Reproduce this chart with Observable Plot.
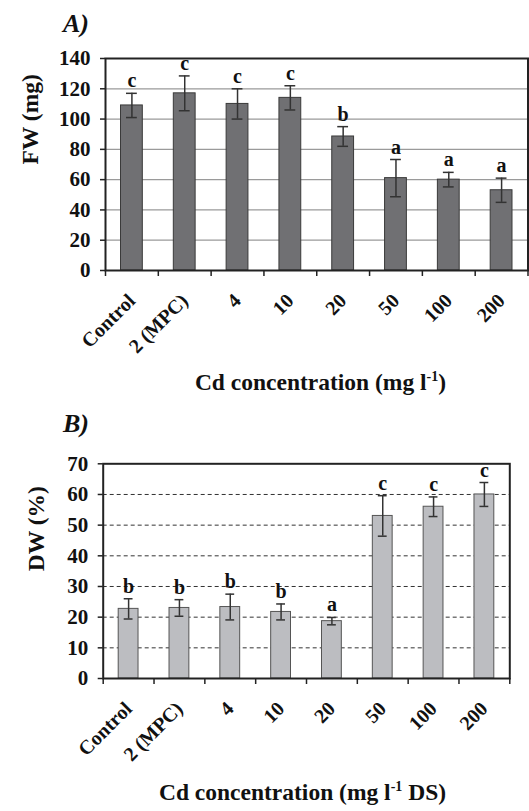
<!DOCTYPE html>
<html>
<head>
<meta charset="utf-8">
<script src="https://cdn.jsdelivr.net/npm/d3@7"></script>
<script src="https://cdn.jsdelivr.net/npm/@observablehq/plot@0.6"></script>
<style>
  html, body { margin: 0; padding: 0; background: #fff; }
  #wrap { position: relative; width: 529px; height: 811px; font-family: 'Liberation Serif'; color: #111; overflow: hidden; }
  .abs { position: absolute; font-family: 'Liberation Serif'; }
  .panel { font-style: italic; font-weight: bold; font-size: 26px; line-height: normal; z-index: 2; }
  .xt { font-weight: bold; font-size: 23.5px; line-height: normal; text-align: center; white-space: nowrap; z-index: 2; }
  .sp { font-size: 14px; position: relative; top: -9px; }
</style>
</head>
<body>
<div id="wrap">
  <div id="chartA" class="abs" style="left:0; top:0;"></div>
  <div id="chartB" class="abs" style="left:0; top:400px;"></div>
  <div class="abs panel" style="left:63px; top:9px;">A)</div>
  <div class="abs xt" style="left:0; width:641px; top:369px;">Cd concentration (mg l<span class="sp">-1</span>)</div>
  <div class="abs panel" style="left:63px; top:409px;">B)</div>
  <div class="abs xt" style="left:0; width:605px; top:779px;">Cd concentration (mg l<span class="sp">-1</span> DS)</div>
</div>
<script>
const categories = ["Control", "2 (MPC)", "4", "10", "20", "50", "100", "200"];
const fwMean = [109, 117, 110, 114, 88.5, 61, 60, 53];
const fwErr = [8, 11.5, 10, 8, 6.5, 12.3, 4.8, 8];
const fwLetters = ["c", "c", "c", "c", "b", "a", "a", "a"];
const dwMean = [22.7, 23, 23.3, 21.7, 18.7, 53, 56, 60];
const dwErr = [3.3, 2.7, 4.2, 2.6, 1.2, 6.6, 3.2, 3.9];
const dwLetters = ["b", "b", "b", "b", "a", "c", "c", "c"];
const fwTicks = [0, 20, 40, 60, 80, 100, 120, 140];
const dwTicks = [0, 10, 20, 30, 40, 50, 60, 70];

const FONT = "Liberation Serif";

function panel({mean, err, letters, ticks, yMax, title, fill, stroke, grid, height, mt, mb, ml, mr, titleDx}) {
  const data = categories.map((c, i) => ({i, c, v: mean[i], e: err[i], l: letters[i]}));
  const inner = ticks.filter(t => t > 0 && t < yMax);
  return Plot.plot({
    width: 529, height,
    marginTop: mt, marginBottom: mb, marginLeft: ml, marginRight: mr,
    x: {domain: [0, categories.length], label: null},
    y: {domain: [0, yMax], label: null},
    style: {fontFamily: FONT, fontWeight: "bold", fontSize: "21px", color: "#111", background: "transparent", overflow: "visible"},
    marks: [
      Plot.ruleY(inner, grid),
      Plot.rectY(data, {x1: "i", x2: d => d.i + 1, y: "v", insetLeft: 15.5, insetRight: 15.5, fill, stroke, strokeWidth: 1}),
      Plot.ruleX(data, {x: d => d.i + 0.5, y1: d => d.v - d.e, y2: d => d.v + d.e, stroke: "#333", strokeWidth: 1.5}),
      Plot.ruleY(data, {x1: "i", x2: d => d.i + 1, y: d => d.v + d.e, insetLeft: 21, insetRight: 21, stroke: "#333", strokeWidth: 1.5}),
      Plot.ruleY(data, {x1: "i", x2: d => d.i + 1, y: d => d.v - d.e, insetLeft: 21, insetRight: 21, stroke: "#333", strokeWidth: 1.5}),
      Plot.text(data, {x: d => d.i + 0.5, y: d => d.v + d.e, text: "l", lineAnchor: "bottom", dy: -6, fontSize: 20, fontWeight: "bold", fontFamily: FONT, fill: "#111"}),
      Plot.frame({stroke: "#222", strokeWidth: 2}),
      Plot.axisY({ticks, tickSize: 5, tickPadding: 10, label: null, stroke: "#222", strokeWidth: 1.5, fontFamily: FONT, fontSize: 21}),
      Plot.axisX({ticks: d3.range(categories.length + 1), tickSize: 6, tickFormat: () => "", label: null, stroke: "#222", strokeWidth: 1.5}),
      Plot.axisX({ticks: d3.range(categories.length).map(i => i + 0.5), tickSize: 0, tickPadding: 27, tickRotate: -45, tickFormat: t => categories[Math.floor(t)], label: null, fontSize: 20, fontFamily: FONT}),
      Plot.text([title], {frameAnchor: "left", dx: titleDx, rotate: -90, fontSize: 23.5, fontWeight: "bold", fontFamily: FONT, fill: "#111"})
    ]
  });
}

document.getElementById("chartA").append(panel({
  mean: fwMean, err: fwErr, letters: fwLetters, ticks: fwTicks, yMax: 140, title: "FW (mg)",
  fill: "#707073", stroke: "#3a3a3a",
  grid: {stroke: "#9a9a9a", strokeWidth: 1.3},
  height: 380, mt: 58, mb: 110, ml: 105, mr: 1.5, titleDx: -75
}));

document.getElementById("chartB").append(panel({
  mean: dwMean, err: dwErr, letters: dwLetters, ticks: dwTicks, yMax: 70, title: "DW (%)",
  fill: "#bcbdc1", stroke: "#555",
  grid: {stroke: "#333", strokeWidth: 1, strokeDasharray: "4,3"},
  height: 360, mt: 63.3, mb: 82, ml: 102.7, mr: 19.7, titleDx: -67
}));
</script>
</body>
</html>
